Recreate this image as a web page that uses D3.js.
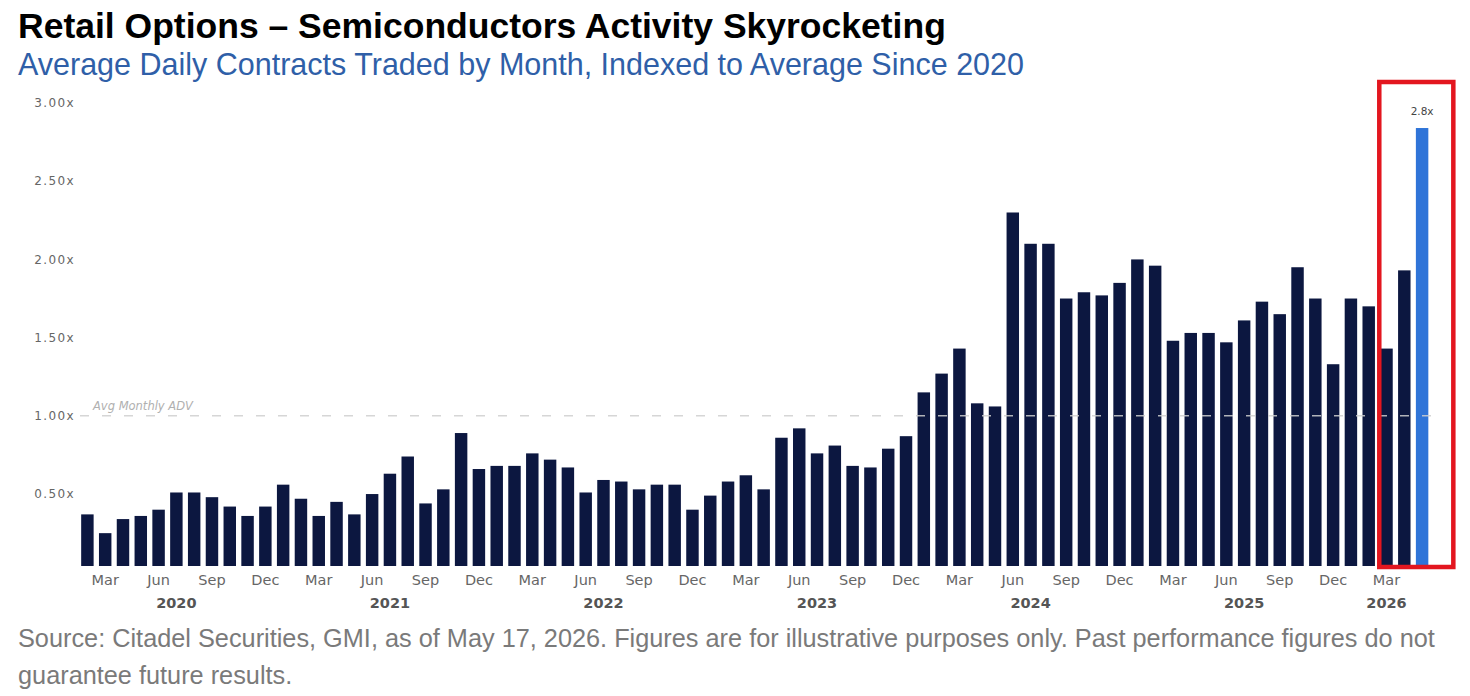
<!DOCTYPE html>
<html lang="en">
<head>
    <meta charset="UTF-8">
    <script src="https://cdn.jsdelivr.net/npm/d3@7"></script>
    <style>
        body { margin: 0; background: #fff; }
        svg { display: block; }
    </style>
</head>
<body>
    <div id="fig"></div>
<script>

    const width = 1470;
    const height = 696;

    // months Feb 2020 .. May 2026
    const startYear = 2020, startMonth = 1; // 0-based month => Feb
    const monthNames = ["Jan","Feb","Mar","Apr","May","Jun","Jul","Aug","Sep","Oct","Nov","Dec"];

    // indexed average daily contracts
    const values = [
        // 2020 Feb-Dec
        0.37, 0.25, 0.34, 0.36, 0.40, 0.51, 0.51, 0.48, 0.42, 0.36, 0.42,
        // 2021
        0.56, 0.47, 0.36, 0.45, 0.37, 0.50, 0.63, 0.74, 0.44, 0.53, 0.89, 0.66,
        // 2022
        0.68, 0.68, 0.76, 0.72, 0.67, 0.51, 0.59, 0.58, 0.53, 0.56, 0.56, 0.40,
        // 2023
        0.49, 0.58, 0.62, 0.53, 0.86, 0.92, 0.76, 0.81, 0.68, 0.67, 0.79, 0.87,
        // 2024
        1.15, 1.27, 1.43, 1.08, 1.06, 2.30, 2.10, 2.10, 1.75, 1.79, 1.77, 1.85,
        // 2025
        2.00, 1.96, 1.48, 1.53, 1.53, 1.47, 1.61, 1.73, 1.65, 1.95, 1.75, 1.33,
        // 2026 Jan-May
        1.75, 1.70, 1.43, 1.93, 2.84
    ];
    const yTicks = [0.5, 1.0, 1.5, 2.0, 2.5, 3.0];
    const tickMonths = ["Mar","Jun","Sep","Dec"];
    const avgLevel = 1.0;
    const lastLabel = "2.8x";

    const data = values.map((v,i)=>{
        const m = startMonth + i;
        return {i:i, year: startYear + Math.floor(m/12), month: monthNames[m%12], value: v};
    });
    const last = data[data.length-1];

    const svg = d3.select("#fig")
        .append("svg")
        .attr("width",width)
        .attr("height",height);

    svg.append("rect").attr("width",width).attr("height",height).attr("fill","#fff");

    // titles
    svg.append("text")
        .attr("x",18).attr("y",38)
        .text("Retail Options \u2013 Semiconductors Activity Skyrocketing")
        .style("font-family","'Liberation Sans', Arial, sans-serif")
        .style("font-weight","bold")
        .style("font-size","35.5px")
        .attr("fill","#000");
    svg.append("text")
        .attr("x",18).attr("y",75)
        .text("Average Daily Contracts Traded by Month, Indexed to Average Since 2020")
        .style("font-family","'Liberation Sans', Arial, sans-serif")
        .style("font-size","30.5px")
        .attr("fill","#2f5fa8");

    const x = d3.scaleBand()
        .domain(data.map(d=>d.i))
        .range([78.5, 1431])
        .paddingInner(0.3)
        .paddingOuter(0.15);

    const y = d3.scaleLinear()
        .domain([0.04, 3.0])
        .range([566, 103]);

    // y labels
    svg.selectAll(".ylab")
        .data(yTicks)
        .join("text")
        .attr("class","ylab")
        .attr("x",75)
        .attr("y",d=>y(d))
        .attr("dy","0.35em")
        .attr("text-anchor","end")
        .text(d=>d3.format(".2f")(d)+"x")
        .style("font-family","'DejaVu Sans', Verdana, sans-serif")
        .style("font-size","12px")
        .style("letter-spacing","1.4px")
        .attr("fill","#666");

    // bars
    svg.selectAll(".bar")
        .data(data)
        .join("rect")
        .attr("class","bar")
        .attr("x",d=>x(d.i))
        .attr("width",x.bandwidth())
        .attr("y",d=>y(d.value))
        .attr("height",d=>y.range()[0]-y(d.value))
        .attr("fill",d=>d===last ? "#2f74d8" : "#0c1740");

    // average line drawn over the bars
    svg.append("line")
        .attr("x1",80).attr("x2",x(last.i)+x.bandwidth()+12)
        .attr("y1",y(avgLevel)).attr("y2",y(avgLevel))
        .attr("stroke","#cfcfcf")
        .attr("stroke-opacity",0.85)
        .attr("stroke-width",1.5)
        .attr("stroke-dasharray","9,13");
    svg.append("text")
        .attr("x",93).attr("y",y(avgLevel)-6)
        .text("Avg Monthly ADV")
        .style("font-family","'DejaVu Sans', Verdana, sans-serif")
        .style("font-style","italic")
        .style("font-size","11.5px")
        .attr("fill","#b0b0b0");

    // last value label
    svg.append("text")
        .attr("x",x(last.i)+x.bandwidth()/2)
        .attr("y",y(last.value)-13)
        .attr("text-anchor","middle")
        .text(lastLabel)
        .style("font-family","'DejaVu Sans', Verdana, sans-serif")
        .style("font-size","10.5px")
        .attr("fill","#444");

    // month ticks
    const monthTicks = data.filter(d=>tickMonths.includes(d.month));
    svg.selectAll(".mlab")
        .data(monthTicks)
        .join("text")
        .attr("class","mlab")
        .attr("x",d=>x(d.i)+x.bandwidth()/2)
        .attr("y",585)
        .attr("text-anchor","middle")
        .text(d=>d.month)
        .style("font-family","'DejaVu Sans', Verdana, sans-serif")
        .style("font-size","14.5px")
        .attr("fill","#666");

    // year labels at the middle month of each year's run
    const years = d3.groups(data,d=>d.year).map(([yr,arr])=>({year:yr, d:arr[Math.floor(arr.length/2)]}));
    svg.selectAll(".ylab2")
        .data(years)
        .join("text")
        .attr("class","ylab2")
        .attr("x",d=>x(d.d.i)+x.bandwidth()/2)
        .attr("y",608)
        .attr("text-anchor","middle")
        .text(d=>d.year)
        .style("font-family","'DejaVu Sans', Verdana, sans-serif")
        .style("font-weight","bold")
        .style("font-size","14.5px")
        .attr("fill","#555");

    // red highlight box round the last three months
    const boxFrom = data[data.length-3];
    svg.append("rect")
        .attr("x",x(boxFrom.i)-1)
        .attr("y",82)
        .attr("width",x(last.i)+x.bandwidth()+25-(x(boxFrom.i)-1))
        .attr("height",y.range()[0]+1-82)
        .attr("fill","none")
        .attr("stroke","#e3161f")
        .attr("stroke-width",4.5);

    // footnote
    const foot = svg.append("text")
        .style("font-family","'Liberation Sans', Arial, sans-serif")
        .style("font-size","25.3px")
        .attr("fill","#7a7a7a");
    foot.append("tspan").attr("x",18).attr("y",647)
        .text("Source: Citadel Securities, GMI, as of May 17, 2026. Figures are for illustrative purposes only. Past performance figures do not");
    foot.append("tspan").attr("x",18).attr("y",684)
        .text("guarantee future results.");

</script>
</body>
</html>
